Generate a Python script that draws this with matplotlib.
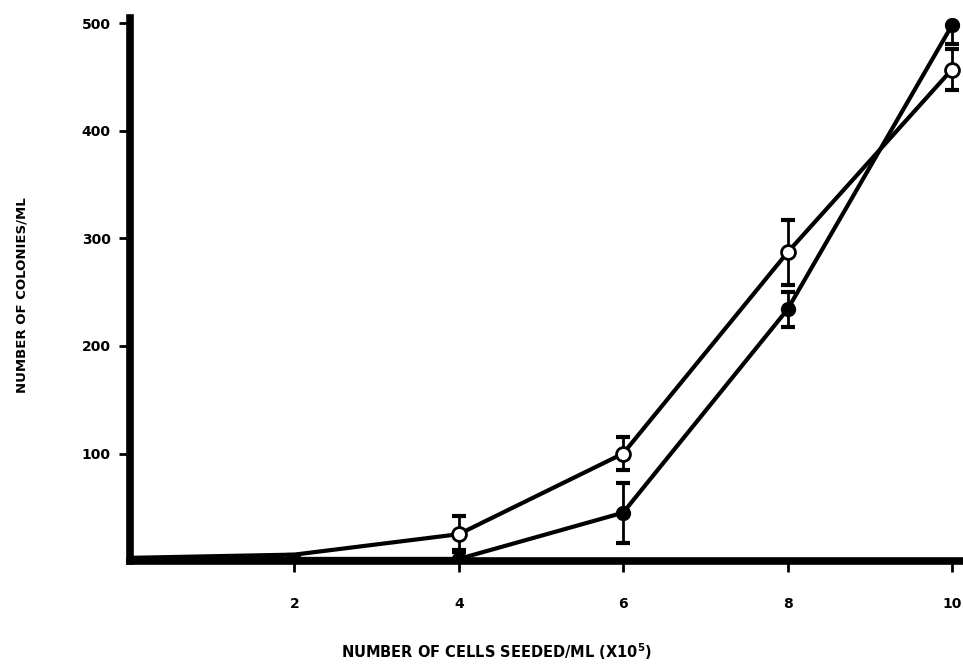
import numpy as np
import matplotlib.pyplot as plt

# cells seeded (x10^5 per ml)
cells = [0, 2, 4, 6, 8, 10]

# open circles
open_vals = [3, 6, 25, 100, 287, 457]
open_err = [0, 0, 17, 15, 30, 19]

# filled circles
filled_vals = [2, 2, 2, 45, 234, 498]
filled_err = [0, 0, 8, 28, 16, 17]

y_ticks = [100, 200, 300, 400, 500]
x_ticks = [2, 4, 6, 8, 10]

plt.rcParams['font.family'] = ['DejaVu Sans']

fig = plt.figure(figsize=(9.63, 6.64), dpi=100)
ax = fig.add_axes([0.135, 0.155, 0.862, 0.818])

# error bars first (skip the x=0 point)
ax.errorbar(cells[1:], open_vals[1:], yerr=open_err[1:], fmt='none',
            ecolor='black', elinewidth=2, capsize=5, capthick=3, zorder=2)
ax.errorbar(cells[1:], filled_vals[1:], yerr=filled_err[1:], fmt='none',
            ecolor='black', elinewidth=2, capsize=5, capthick=3, zorder=2)

ax.plot(cells, open_vals, color='black', lw=3, marker='o', markersize=10,
        markerfacecolor='white', markeredgecolor='black', markeredgewidth=2,
        markevery=[2, 3, 4, 5], zorder=3)
ax.plot(cells, filled_vals, color='black', lw=3, marker='o', markersize=10,
        markerfacecolor='black', markeredgecolor='black',
        markevery=[2, 3, 4, 5], zorder=3)

ax.set_xlim(0, 10.1)
ax.set_ylim(0, 505)

for s in ['top', 'right']:
    ax.spines[s].set_visible(False)
for s in ['left', 'bottom']:
    ax.spines[s].set_linewidth(5.5)
    ax.spines[s].set_zorder(4)

ax.set_xticks(x_ticks)
ax.set_yticks(y_ticks)
ax.set_xticklabels([str(t) for t in x_ticks], fontsize=10, fontweight='bold')
ax.set_yticklabels([str(t) for t in y_ticks], fontsize=10, fontweight='bold')
ax.tick_params(axis='x', direction='out', length=8, width=2, pad=18)
ax.tick_params(axis='y', direction='out', length=8, width=2, pad=6)

ax.set_xlabel('NUMBER OF CELLS SEEDED/ML (X10$^{\\mathbf{5}}$)', fontsize=10.5,
              fontweight='bold')
ax.xaxis.set_label_coords(0.442, -0.148)
ax.set_ylabel('NUMBER OF COLONIES/ML', fontsize=9.5, fontweight='bold')
ax.yaxis.set_label_coords(-0.122, 0.49)

fig.savefig('out.png', dpi=100)
